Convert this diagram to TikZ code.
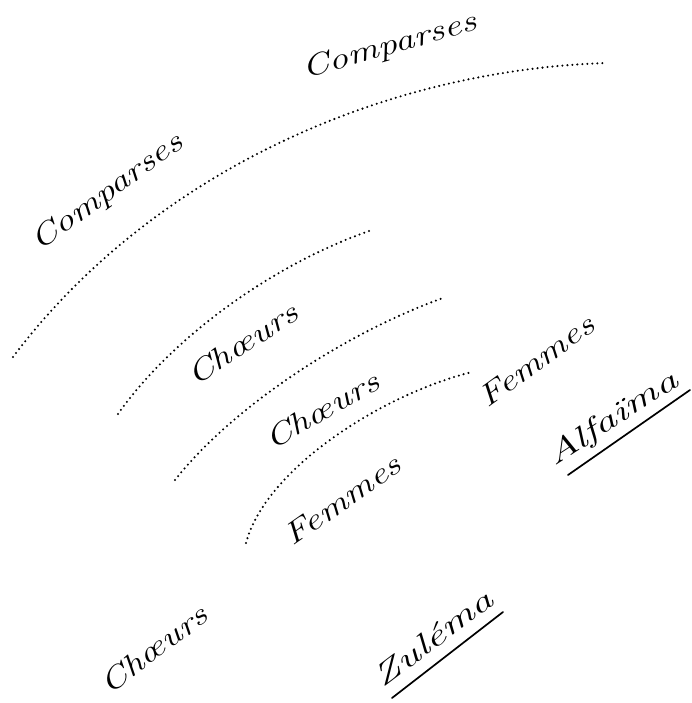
\documentclass[tikz,border=0pt]{standalone}
\newcommand{\hw}[2][1.3]{\scalebox{#1}[1]{#2}}
\begin{document}
\begin{tikzpicture}[x=1pt,y=-1pt,
  lbl/.style={font=\fontsize{30}{34}\selectfont\itshape, inner sep=0pt, anchor=base},
  dots/.style={line width=2.3pt, line cap=round, dash pattern=on 0pt off 5pt},
  ul/.style={line width=1.7pt, line cap=round}]
\useasboundingbox (0,0) rectangle (691,703);
% labels
\node[lbl, rotate=16] (cmp1) at (392,54) {\hw{Comparses}};
\node[lbl, rotate=36] (cmp2) at (112,199) {\hw{Comparses}};
\node[lbl, rotate=33] (ch1) at (248,352) {\hw{Chœurs}};
\node[lbl, rotate=30] (ch2) at (327,419) {\hw{Chœurs}};
\node[lbl, rotate=36] (fe1) at (542,369) {\hw{Femmes}};
\node[lbl, rotate=35] (fe2) at (348,508) {\hw{Femmes}};
\node[lbl, rotate=37] (ch3) at (160,657) {\hw{Chœurs}};
\node[lbl, rotate=37] (zul) at (439,646) {\hw[1.5]{Zuléma}};
\node[lbl, rotate=33] (alf) at (617,426) {\hw[1.5]{Alfaïma}};
% arcs
\coordinate (a1) at (13,357); \coordinate (b1) at (607,63);
\coordinate (a2) at (118,414); \coordinate (b2) at (372,230);
\coordinate (a3) at (175,480); \coordinate (b3) at (443,298);
\coordinate (a4) at (246,543); \coordinate (b4) at (472,372);
\draw[dots] (a1) .. controls (150,175) and (380,70) .. (b1);
\draw[dots] (a2) .. controls (170,340) and (270,265) .. (b2);
\draw[dots] (a3) .. controls (230,410) and (340,335) .. (b3);
\draw[dots] (a4) .. controls (265,470) and (380,395) .. (b4);
% underlines
\coordinate (z1) at (392,698); \coordinate (z2) at (503,612);
\coordinate (l1) at (568,475); \coordinate (l2) at (690,390);
\draw[ul] (z1) -- (z2);
\draw[ul] (l1) -- (l2);
\end{tikzpicture}
\end{document}
